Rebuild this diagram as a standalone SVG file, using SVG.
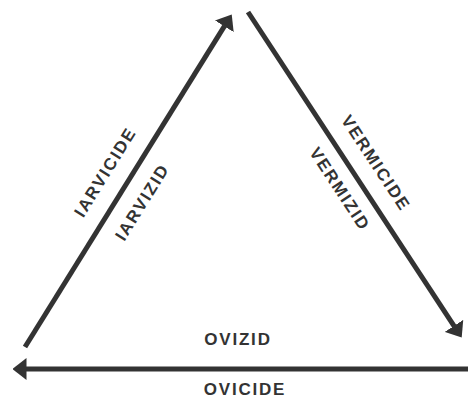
<svg xmlns="http://www.w3.org/2000/svg" width="468" height="398" viewBox="0 0 468 398">
<defs>
<marker id="ah" markerUnits="userSpaceOnUse" markerWidth="14" markerHeight="22" viewBox="0 0 14 22" refX="0.5" refY="11" orient="auto">
<path d="M0,0 L14,11 L0,22 Z" fill="#333"/>
</marker>
<style>
.arr{stroke:#333;stroke-width:5;fill:none;marker-end:url(#ah)}
.lbl{font-family:"Liberation Sans",Arial,sans-serif;font-weight:bold;font-size:17px;letter-spacing:1.8px;fill:#333;text-anchor:middle}
</style>
</defs>
<rect width="468" height="398" fill="#fff"/>
<g id="connectors">
<line class="arr" x1="25" y1="347" x2="224.6" y2="25.9"/>
<line class="arr" x1="248" y1="12" x2="454.3" y2="326.3"/>
<line class="arr" x1="470" y1="369" x2="26" y2="369"/>
</g>
<g id="larvicide"><text class="lbl" transform="translate(105,172) rotate(-58.1)" y="6">IARVICIDE</text></g>
<g id="larvizid"><text class="lbl" transform="translate(142,202) rotate(-58.1)" y="6">IARVIZID</text></g>
<g id="vermicide"><text class="lbl" transform="translate(376,163) rotate(56.7)" y="6">VERMICIDE</text></g>
<g id="vermizid"><text class="lbl" transform="translate(340,189) rotate(56.7)" y="6">VERMIZID</text></g>
<g id="ovizid"><text class="lbl" x="238" y="345">OVIZID</text></g>
<g id="ovicide"><text class="lbl" x="245" y="395">OVICIDE</text></g>
</svg>
